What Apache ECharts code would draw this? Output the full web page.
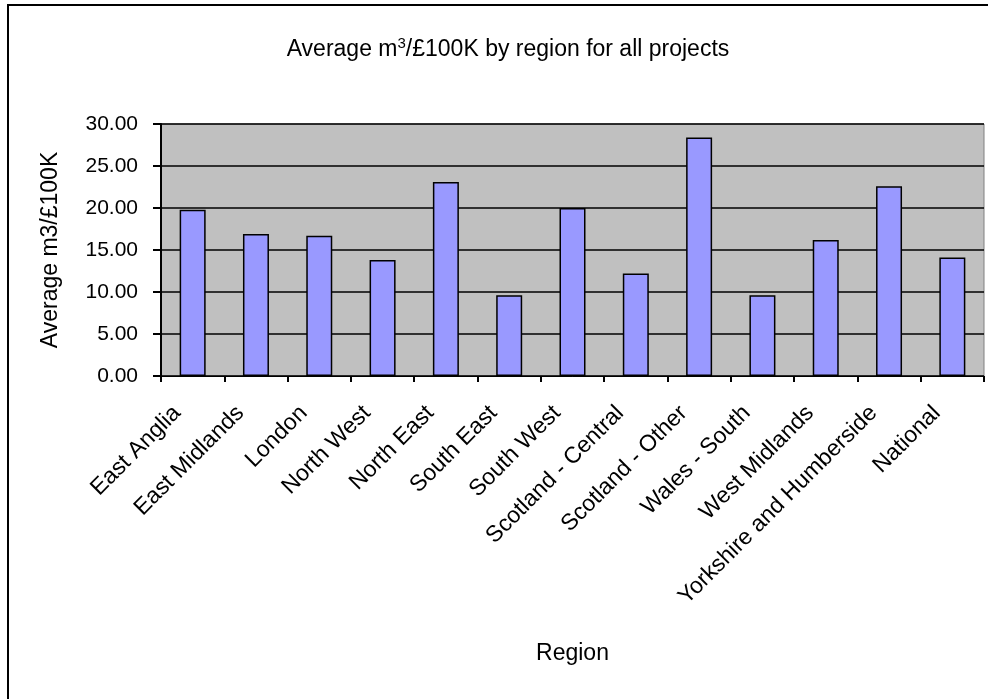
<!DOCTYPE html>
<html style="height: 100%">
<head>
    <meta charset="UTF-8" />
    <title>Average m3 per £100K by region</title>
    <style>
        html, body { margin: 0; padding: 0; background: #fff; }
        #main { width: 988px; height: 699px; }
    </style>
</head>
<body>
    <div id="main"></div>
    <script src="https://cdn.jsdelivr.net/npm/echarts@6/dist/echarts.min.js"></script>
    <script>
        /* 数据 */
        var regions = ['East Anglia', 'East Midlands', 'London', 'North West', 'North East', 'South East',
            'South West', 'Scotland - Central', 'Scotland - Other', 'Wales - South', 'West Midlands',
            'Yorkshire and Humberside', 'National'];
        var avgVolume = [19.8, 16.9, 16.7, 13.8, 23.1, 9.6, 20.0, 12.2, 28.4, 9.6, 16.2, 22.6, 14.1];
        var yTicks = [0, 5, 10, 15, 20, 25, 30];

        var font = '"Liberation Sans", Arial, sans-serif';
        var app = echarts.init(document.getElementById('main'));
        var option = {
            backgroundColor: '#ffffff',
            textStyle: {fontFamily: font, color: '#000'},
            graphic: [{
                type: 'rect',
                shape: {x: 8, y: 5, width: 1000, height: 720},
                style: {fill: 'none', stroke: '#000', lineWidth: 2},
                silent: true
            }],
            title: {
                text: 'Average m{sup|3}/£100K by region for all projects',
                left: 503,
                top: 31,
                textAlign: 'center',
                textStyle: {
                    fontFamily: font,
                    fontSize: 23,
                    fontWeight: 'normal',
                    color: '#000',
                    lineHeight: 28,
                    rich: {
                        sup: {fontFamily: font, fontSize: 15, lineHeight: 28, verticalAlign: 'top', padding: [0, 0, 14, 0], color: '#000'}
                    }
                }
            },
            grid: {
                left: 161,
                right: 4,
                top: 124,
                bottom: 323,
                show: true,
                backgroundColor: '#c0c0c0',
                borderColor: '#808080',
                borderWidth: 1
            },
            xAxis: {
                type: 'category',
                data: regions,
                name: 'Region',
                nameLocation: 'middle',
                nameGap: 266,
                nameTextStyle: {fontFamily: font, fontSize: 23, color: '#000'},
                axisLine: {lineStyle: {color: '#000', width: 1}},
                axisTick: {show: true, length: 6, lineStyle: {color: '#000', width: 2}},
                axisLabel: {
                    interval: 0,
                    rotate: 45,
                    margin: 18,
                    padding: [0, 22, 0, 0],
                    fontFamily: font,
                    fontSize: 23,
                    color: '#000'
                }
            },
            yAxis: {
                type: 'value',
                min: 0,
                max: 30,
                interval: 5,
                name: 'Average m3/£100K',
                nameLocation: 'middle',
                nameGap: 99,
                nameTextStyle: {fontFamily: font, fontSize: 23, color: '#000'},
                axisLine: {show: true, lineStyle: {color: '#000', width: 2}},
                axisTick: {show: true, length: 8, lineStyle: {color: '#000', width: 2}},
                splitLine: {show: true, lineStyle: {color: '#000', width: 1.5}},
                axisLabel: {
                    margin: 23,
                    fontFamily: font,
                    fontSize: 21,
                    color: '#000',
                    formatter: function (v) { return yTicks.indexOf(v) >= 0 ? v.toFixed(2) : ''; }
                }
            },
            series: [{
                name: 'Average m3/£100K',
                type: 'bar',
                data: avgVolume,
                barWidth: 26,
                itemStyle: {color: '#9999ff', borderColor: '#000', borderWidth: 1.5},
                emphasis: {disabled: true}
            }]
        };
        app.setOption(option);
    </script>
</body>
</html>
